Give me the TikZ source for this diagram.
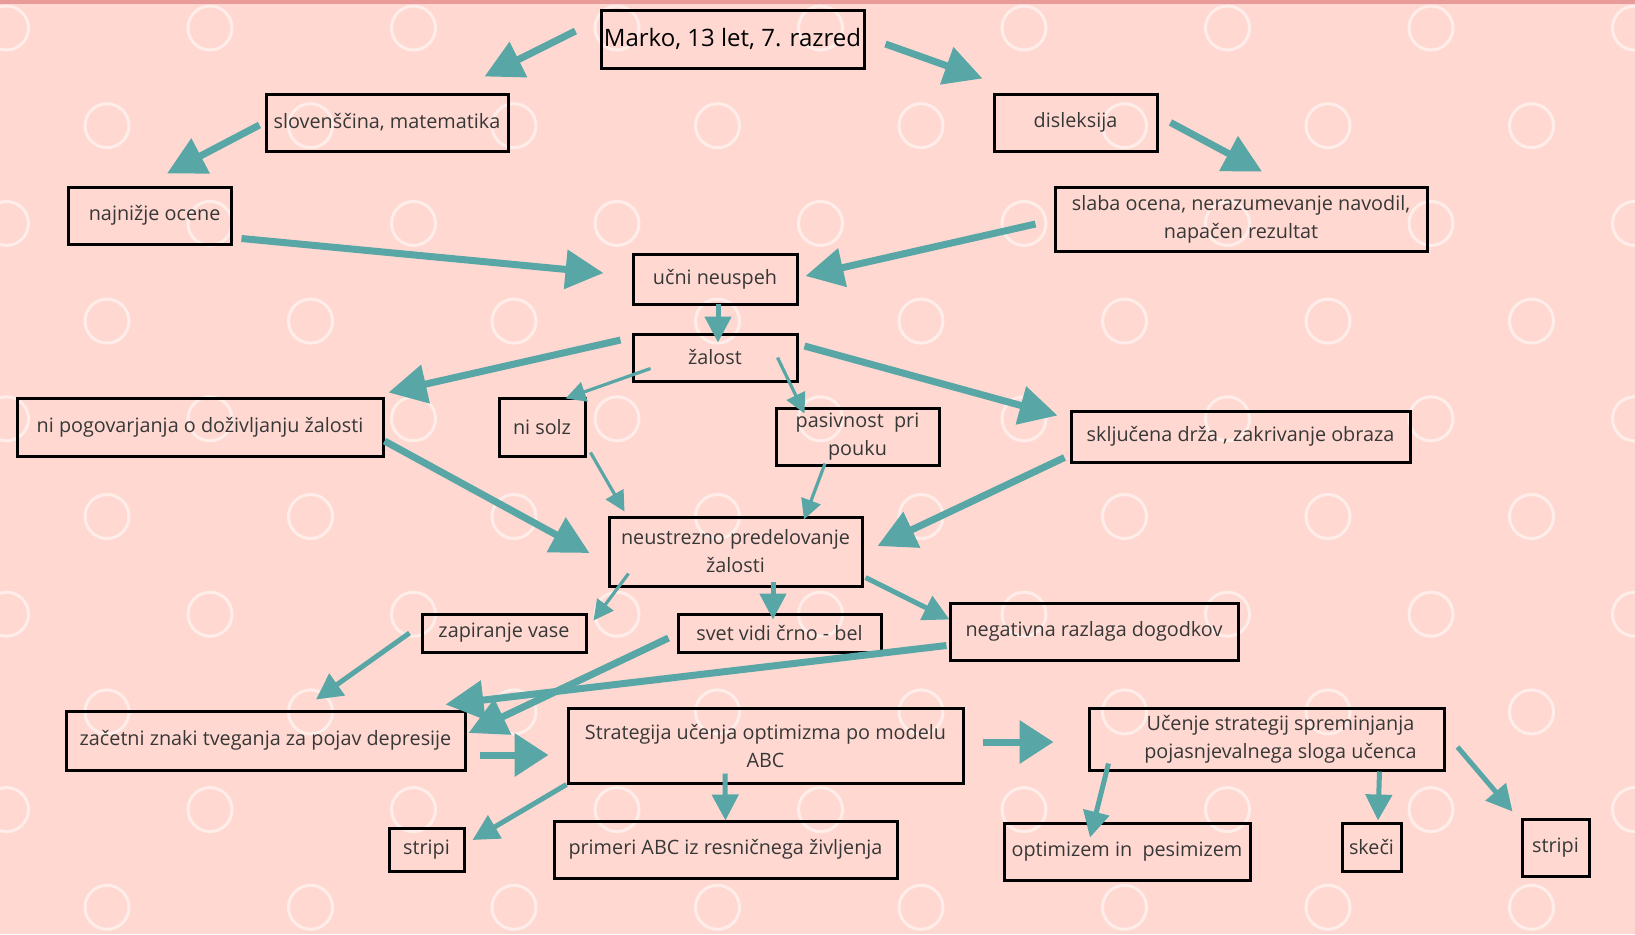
\documentclass[tikz,border=0pt]{standalone}
\usepackage{fontspec}
\setmainfont{Open Sans}
\usetikzlibrary{arrows.meta}
\definecolor{bgpink}{RGB}{255,217,209}
\definecolor{bandpink}{RGB}{233,155,153}
\definecolor{ringwhite}{RGB}{255,237,233}
\definecolor{arrteal}{RGB}{88,166,166}
\definecolor{txtgray}{RGB}{55,55,55}

\begin{document}
\begin{tikzpicture}[x=0.5pt,y=-0.5pt,every node/.style={align=center}]
  \tikzset{
    box/.style={draw=black,line width=1.5pt,inner sep=0pt,text=txtgray,
      font=\fontsize{9.9}{14}\selectfont},
    wh/.style 2 args={minimum width=#1*0.5pt,minimum height=#2*0.5pt}, % size in px
    bigarrow/.style={draw=arrteal,line width=3.5pt,-{Triangle[length=19pt,width=19pt]}},
    midarrow/.style={draw=arrteal,line width=2.5pt,-{Triangle[length=13pt,width=13pt]}},
    smallarrow/.style={draw=arrteal,line width=1.6pt,-{Triangle[length=10pt,width=10pt]}}
  }

  % background with ring pattern
  \useasboundingbox (0,0) rectangle (1635,934);
  \fill[bgpink] (0,0) rectangle (1635,934);
  \begin{scope}
    \clip (0,0) rectangle (1635,934);
    \foreach \j in {0,...,9}{
      \foreach \k in {0,...,8}{
        \pgfmathsetmacro\cx{mod(\j,2)==0 ? 6.5+203.5*\k : 107+203.5*\k}
        \draw[ringwhite,line width=1.5pt] (\cx,28+97.7*\j) circle[radius=11pt];
      }
    }
  \end{scope}
  \fill[bandpink] (0,0) rectangle (1635,4);

  % boxes
  \node[box,wh={263}{58},text=black,font=\fontsize{12}{14}\selectfont] (marko) at (732.5,39) {Marko, 13 let, 7. razred};
  \node[box,wh={242}{57}] (slov) at (387,122.5) {slovenščina, matematika};
  \node[box,wh={163}{57}] (disl) at (1075.5,122.5) {disleksija};
  \node[box,wh={163}{57}] (najn) at (149.5,215.5) {\ \ najnižje ocene};
  \node[box,wh={372}{64}] (slab) at (1241,219) {slaba ocena, nerazumevanje navodil,\\napačen rezultat};
  \node[box,wh={164}{50}] (ucni) at (715,279) {učni neuspeh};
  \node[box,wh={164}{47}] (zal) at (715,357.5) {žalost};
  \node[box,wh={366}{58}] (nipog) at (200,427) {ni pogovarjanja o doživljanju žalosti};
  \node[box,wh={86}{58}] (nisolz) at (542,427) {ni solz};
  \node[box,wh={163}{57}] (pas) at (857.5,436.5) {pasivnost\ \ pri\\pouku};
  \node[box,wh={339}{51}] (skl) at (1240.5,436.5) {sključena drža , zakrivanje obraza};
  \node[box,wh={253}{69}] (neu) at (735.5,551.5) {neustrezno predelovanje\\žalosti};
  \node[box,wh={164}{38}] (zap) at (504,633) {zapiranje vase};
  \node[box,wh={203}{38}] (svet) at (779.5,633) {svet vidi črno - bel};
  \node[box,wh={288}{57}] (neg) at (1094,631.5) {negativna razlaga dogodkov};
  \node[box,wh={399}{59}] (zac) at (265.5,740.5) {začetni znaki tveganja za pojav depresije};
  \node[box,wh={395}{75}] (strat) at (765.5,745.5) {Strategija učenja optimizma po modelu\\ABC};
  \node[box,wh={355}{62}] (ucen) at (1266.5,739) {\hspace{14pt}Učenje strategij spreminjanja\\\hspace{14pt}pojasnjevalnega sloga učenca};
  \node[box,wh={75}{43}] (stripa) at (426.5,849.5) {stripi};
  \node[box,wh={343}{57}] (prim) at (725.5,849.5) {primeri ABC iz resničnega življenja};
  \node[box,wh={246}{57}] (opt) at (1127,851.5) {optimizem in\ \ pesimizem};
  \node[box,wh={59}{48}] (skec) at (1371.5,847) {skeči};
  \node[box,wh={67}{57}] (stripb) at (1555.5,847.5) {stripi};

  % arrows
  \draw[bigarrow] ([shift={(-24,-8)}]marko.west) -- ([shift={(-25,-16)}]slov.north east);
  \draw[bigarrow] ([shift={(20,5)}]marko.east) -- ([shift={(-10,-14)}]disl.north west);
  \draw[bigarrow] ([shift={(-5,2.5)}]slov.west) -- ([shift={(17.5,-12)}]najn.north);
  \draw[bigarrow] ([shift={(12,0)}]disl.east) -- ([shift={(21,-14)}]slab.north);
  \draw[bigarrow] ([shift={(9,-7)}]najn.south east) -- ([shift={(-28,-6)}]ucni.west);
  \draw[bigarrow] ([shift={(-18,5)}]slab.west) -- ([shift={(7,-3)}]ucni.east);
  \draw[midarrow] ([shift={(3,-2)}]ucni.south) -- ([shift={(3,10)}]zal.north);
  \draw[bigarrow] ([shift={(-11,-17.5)}]zal.west) -- ([shift={(4,-4)}]nipog.north east);
  \draw[smallarrow] ([shift={(19,-14)}]zal.south west) -- ([shift={(-21,2)}]nisolz.north east);
  \draw[smallarrow] ([shift={(-21,0)}]zal.east) -- ([shift={(30,7)}]pas.north west);
  \draw[bigarrow] ([shift={(6,-11.5)}]zal.east) -- ([shift={(-12,6)}]skl.north west);
  \draw[bigarrow] ([shift={(0,14)}]nipog.east) -- ([shift={(-18,1.5)}]neu.west);
  \draw[smallarrow] ([shift={(4,-5)}]nisolz.south east) -- ([shift={(17,-4)}]neu.north west);
  \draw[smallarrow] ([shift={(-32.5,-3)}]pas.south) -- ([shift={(68.5,4)}]neu.north);
  \draw[bigarrow] ([shift={(-5,-6)}]skl.south west) -- ([shift={(14,-5.5)}]neu.east);
  \draw[smallarrow] ([shift={(21,-14)}]neu.south west) -- ([shift={(6,8)}]zap.north east);
  \draw[midarrow] ([shift={(37.5,-6)}]neu.south) -- ([shift={(-6.5,7)}]svet.north);
  \draw[midarrow] ([shift={(2,-10)}]neu.south east) -- ([shift={(1,18)}]neg.north west);
  \draw[midarrow] ([shift={(-11,0)}]zap.west) -- ([shift={(50.5,-10)}]zac.north);
  \draw[bigarrow] ([shift={(-8,5)}]svet.west) -- ([shift={(2,-7.5)}]zac.east);
  \draw[bigarrow] ([shift={(-2,-16)}]neg.south west) -- ([shift={(-21,-5)}]zac.north east);
  \draw[bigarrow,-{Triangle[length=17pt,width=21pt]}] ([shift={(13,14.5)}]zac.east) -- ([shift={(-18,9.5)}]strat.west);
  \draw[bigarrow,-{Triangle[length=17pt,width=21pt]}] ([shift={(18,-3.5)}]strat.east) -- ([shift={(-34,3)}]ucen.west);
  \draw[midarrow] (strat.south west) -- ([shift={(7,-9.5)}]stripa.east);
  \draw[midarrow] ([shift={(-40.5,-11)}]strat.south) -- ([shift={(0,1)}]prim.north);
  \draw[midarrow] ([shift={(21,-8)}]ucen.south west) -- ([shift={(-37,16)}]opt.north);
  \draw[midarrow] ([shift={(-66,0)}]ucen.south east) -- ([shift={(6.5,-1)}]skec.north);
  \draw[midarrow] ([shift={(12,8)}]ucen.east) -- ([shift={(-8,-6)}]stripb.north west);
\end{tikzpicture}
\end{document}
